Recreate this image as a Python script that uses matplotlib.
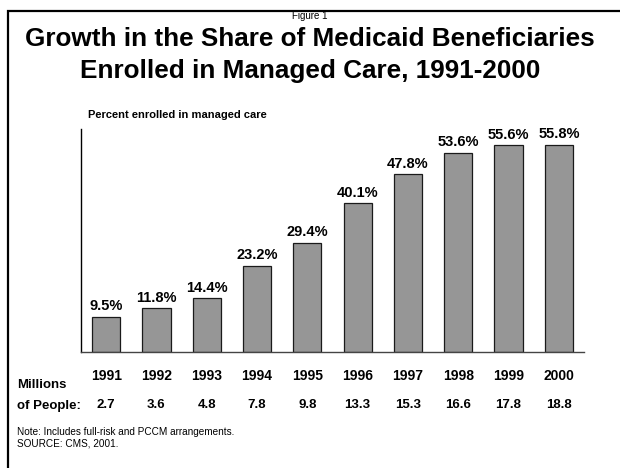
import matplotlib
matplotlib.use("Agg")
import matplotlib.pyplot as plt
from matplotlib.patches import Rectangle
import matplotlib.transforms as mtransforms

plt.rcParams['font.family'] = ['Liberation Sans', 'DejaVu Sans']

# data
years = ['1991', '1992', '1993', '1994', '1995', '1996', '1997', '1998', '1999', '2000']
pct = [9.5, 11.8, 14.4, 23.2, 29.4, 40.1, 47.8, 53.6, 55.6, 55.8]
millions = ['2.7', '3.6', '4.8', '7.8', '9.8', '13.3', '15.3', '16.6', '17.8', '18.8']

W, H = 620, 468
fig = plt.figure(figsize=(6.2, 4.68), dpi=100)

# frame around the slide (right/bottom edges run off the image)
fig.add_artist(Rectangle((8 / W, -0.05), 1.2, 1.05 - 11 / H, transform=fig.transFigure,
                         fill=False, edgecolor='black', linewidth=1.6))

# titles
fig.text(0.5, 1 - 16 / H, 'Figure 1', ha='center', va='center', fontsize=7)
fig.text(0.5, 1 - 39 / H, 'Growth in the Share of Medicaid Beneficiaries',
         ha='center', va='center', fontsize=18.8, fontweight='bold')
fig.text(0.5, 1 - 71 / H, 'Enrolled in Managed Care, 1991-2000',
         ha='center', va='center', fontsize=18.8, fontweight='bold')

# bar axes
ax = fig.add_axes([81 / W, 1 - 352 / H, 503 / W, 223 / H])
x = list(range(len(years)))
ax.bar(x, pct, width=0.56, color='#969696', edgecolor='#1a1a1a', linewidth=0.9)
ax.set_xlim(-0.5, 9.5)
ax.set_ylim(0, 60)
for xi, v in zip(x, pct):
    ax.text(xi, v + 0.9, f'{v}%', ha='center', va='bottom', fontsize=10.5, fontweight='bold')

for s in ['top', 'right']:
    ax.spines[s].set_visible(False)
ax.spines['left'].set_linewidth(1.0)
ax.spines['bottom'].set_linewidth(1.0)
ax.spines['bottom'].set_color('#444444')
ax.set_yticks([])
ax.set_xticks(x)
ax.set_xticklabels(years, fontsize=10, fontweight='bold')
ax.tick_params(axis='x', length=0, pad=12)

fig.text(88 / W, 1 - 115 / H, 'Percent enrolled in managed care',
         ha='left', va='center', fontsize=8, fontweight='bold')

# millions of people row
trans = mtransforms.blended_transform_factory(ax.transData, fig.transFigure)
for xi, m in zip(x, millions):
    ax.text(xi, 1 - 405 / H, m, transform=trans, ha='center', va='center',
            fontsize=9.5, fontweight='bold')
fig.text(17 / W, 1 - 385 / H, 'Millions', ha='left', va='center', fontsize=9.5, fontweight='bold')
fig.text(17 / W, 1 - 406 / H, 'of People:', ha='left', va='center', fontsize=9.5, fontweight='bold')

fig.text(17 / W, 1 - 432 / H, 'Note: Includes full-risk and PCCM arrangements.',
         ha='left', va='center', fontsize=7.2)
fig.text(17 / W, 1 - 444 / H, 'SOURCE: CMS, 2001.', ha='left', va='center', fontsize=7.2)

fig.savefig('out.png', dpi=100)
